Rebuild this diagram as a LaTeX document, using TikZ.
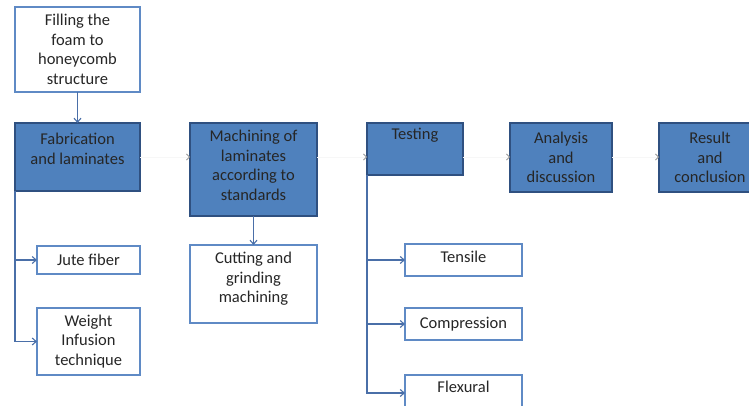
\documentclass[tikz,border=0pt]{standalone}
\usepackage{fontspec}
\setmainfont{Carlito}
\usetikzlibrary{positioning,arrows.meta}
\definecolor{boxblue}{HTML}{4F81BD}
\definecolor{boxedge}{HTML}{2F5080}
\definecolor{lightedge}{HTML}{5F8AC5}
\definecolor{linkblue}{HTML}{4A6FA8}
\begin{document}
\begin{tikzpicture}[x=1pt, y=-1pt,
    darkbox/.style={draw=boxedge, fill=boxblue, line width=2.5pt, outer sep=0pt, align=center, text=black!85, font=\fontsize{16.5}{19.5}\selectfont},
    lightbox/.style={draw=lightedge, fill=white, line width=2.2pt, outer sep=0pt, align=center, text=black!85, font=\fontsize{16.5}{19.5}\selectfont},
    link/.style={draw=linkblue, line width=1.1pt, -{Straight Barb[length=4pt,width=7pt]}},
    faint/.style={draw=black!3, line width=0.8pt, -{Straight Barb[length=3pt,width=6pt,color=black!40]}}]
                \useasboundingbox (0,0) rectangle (749,406);
                \clip (0,0) rectangle (749,406);

                \node[lightbox, minimum width=125pt, minimum height=85pt] (fill) at (77.5,49.5) {Filling the\\foam to\\honeycomb\\structure};
                \node[darkbox, minimum width=125pt, minimum height=68pt, text depth=16pt, below=31pt of fill] (fab) {Fabrication\\and laminates};
                \node[lightbox, minimum width=103pt, minimum height=28pt, below=55pt of fab.south east, anchor=north east] (jute) {Jute fiber};
                \node[lightbox, minimum width=103pt, minimum height=67pt, below=34pt of jute.south east, anchor=north east] (weight) {Weight\\Infusion\\technique};

                \node[darkbox, minimum width=127pt, minimum height=93pt, text depth=8pt, right=50pt of fab.north east, anchor=north west] (mach) {Machining of\\laminates\\according to\\standards};
                \node[lightbox, minimum width=127pt, minimum height=78pt, text depth=13pt, below=29pt of mach] (cut) {Cutting and\\grinding\\machining};

                \node[darkbox, minimum width=96pt, minimum height=52pt, text depth=30pt, right=50pt of mach.north east, anchor=north west] (test) {Testing};
                \node[lightbox, minimum width=117pt, minimum height=32pt, text depth=6pt, below right=69pt and 38pt of test.south west, anchor=north west] (tens) {Tensile};
                \node[lightbox, minimum width=117pt, minimum height=32pt, below=32pt of tens] (comp) {Compression};
                \node[lightbox, minimum width=117pt, minimum height=36pt, text depth=12pt, below=35pt of comp] (flex) {Flexural};

                \node[darkbox, minimum width=102pt, minimum height=69pt, right=47pt of test.north east, anchor=north west] (anal) {Analysis\\and\\discussion};
                \node[darkbox, minimum width=102pt, minimum height=69pt, right=47pt of anal.north east, anchor=north west] (res) {Result\\and\\conclusion};

                \draw[link] (fill) -- (fab);
                \draw[link] (mach) -- (cut);
                \draw[link] (fab.south west) |- (jute.west);
                \draw[link] (fab.south west) |- (weight.west);
                \draw[link] (test.south west) |- (tens.west);
                \draw[link] (test.south west) |- (comp.west);
                \draw[link] (test.south west) |- (flex.west);

                \draw[faint] (fab.east) -- (mach.west |- fab.east);
                \draw[faint] (mach.east |- fab.east) -- (test.west |- fab.east);
                \draw[faint] (test.east |- fab.east) -- (anal.west |- fab.east);
                \draw[faint] (anal.east |- fab.east) -- (res.west |- fab.east);
            \end{tikzpicture}
\end{document}
